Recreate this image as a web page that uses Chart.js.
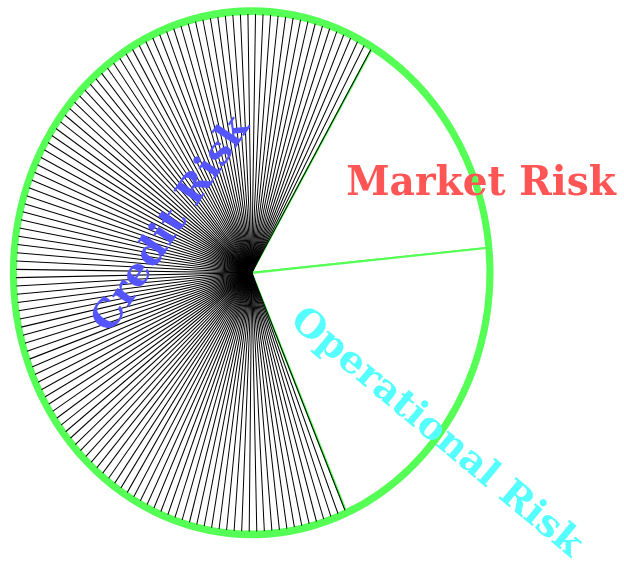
<!DOCTYPE html>
<html><head><meta charset="utf-8">
<script src="https://cdn.jsdelivr.net/npm/chart.js@4.4.1/dist/chart.umd.min.js"></script>
<style>html,body{margin:0;padding:0;background:#fff;}canvas{display:block;}</style>
</head><body>
<canvas id="c" width="624" height="566"></canvas>
<script>
// ---- data ----
const categories = ['Credit Risk', 'Market Risk', 'Operational Risk'];
const shares = [65, 15, 20];

// ---- styles / layout ----
const GREEN = '#55ff55';
const labelColors = ['#5555ff', '#ff5555', '#55ffff'];
const SY = 1.098;             // vertical stretch of the whole pie
const labelSpec = [           // visible-text centre (px), angle (deg), visible length (px), cap height (px)
  {x: 169.2, y: 221.7, angle: -55.97, len: 251, cap: 28},
  {x: 482.0, y: 180.0, angle: 0,      len: 270, cap: 30},
  {x: 439.5, y: 430.5, angle: 39.8,   len: 367, cap: 28}
];
const FONT_FAMILY = '"DejaVu Serif", serif';

const stretchPlugin = {
  id: 'stretch',
  beforeDraw(chart) { chart.ctx.save(); chart.ctx.scale(1, SY); },
  afterDraw(chart) {
    const ctx = chart.ctx;
    ctx.restore();
    categories.forEach((txt, i) => {
      const s = labelSpec[i];
      ctx.save();
      ctx.font = 'bold 40px ' + FONT_FAMILY;
      let m = ctx.measureText(txt);
      const f = 40 * s.len / (m.actualBoundingBoxLeft + m.actualBoundingBoxRight);
      ctx.font = 'bold ' + f.toFixed(2) + 'px ' + FONT_FAMILY;
      m = ctx.measureText(txt);
      const cap = ctx.measureText('M').actualBoundingBoxAscent;
      const k = s.cap / cap;
      ctx.translate(s.x, s.y);
      ctx.rotate(s.angle * Math.PI / 180);
      ctx.scale(1, k);
      ctx.fillStyle = labelColors[i];
      ctx.textAlign = 'left';
      ctx.textBaseline = 'alphabetic';
      ctx.fillText(txt, (m.actualBoundingBoxLeft - m.actualBoundingBoxRight) / 2, cap / 2);
      ctx.restore();
    });
  }
};

const hatchPlugin = {
  id: 'hatch',
  afterDatasetDraw(chart, args) {
    if (args.index !== 1) return;
    const arc = args.meta.data[0];
    const p = arc.getProps(['x', 'y', 'startAngle', 'endAngle', 'outerRadius'], true);
    const ctx = chart.ctx;
    const step = 1.84 * Math.PI / 180;
    ctx.save();
    ctx.lineWidth = 1;
    ctx.strokeStyle = '#000';
    for (let a = p.startAngle + 0.1 * step; a < p.endAngle - 0.05 * step; a += step) {
      ctx.beginPath();
      ctx.moveTo(p.x, p.y);
      ctx.lineTo(p.x + p.outerRadius * Math.cos(a), p.y + p.outerRadius * Math.sin(a));
      ctx.stroke();
    }
    ctx.restore();
  }
};

new Chart(document.getElementById('c'), {
  type: 'pie',
  data: {
    labels: categories,
    datasets: [
      { data: [1], backgroundColor: GREEN, borderWidth: 0, weight: 6, hoverOffset: 0 },
      { data: shares, backgroundColor: '#ffffff', borderColor: GREEN, borderWidth: 2, weight: 235.8, hoverOffset: 0 }
    ]
  },
  options: {
    responsive: false,
    devicePixelRatio: 1,
    animation: false,
    rotation: 156.5,
    radius: 241.8,
    layout: { padding: { left: 0, top: 0, right: 120.6, bottom: 69.1 } },
    events: [],
    plugins: { legend: { display: false }, tooltip: { enabled: false } }
  },
  plugins: [hatchPlugin, stretchPlugin]
});
</script>
</body></html>
